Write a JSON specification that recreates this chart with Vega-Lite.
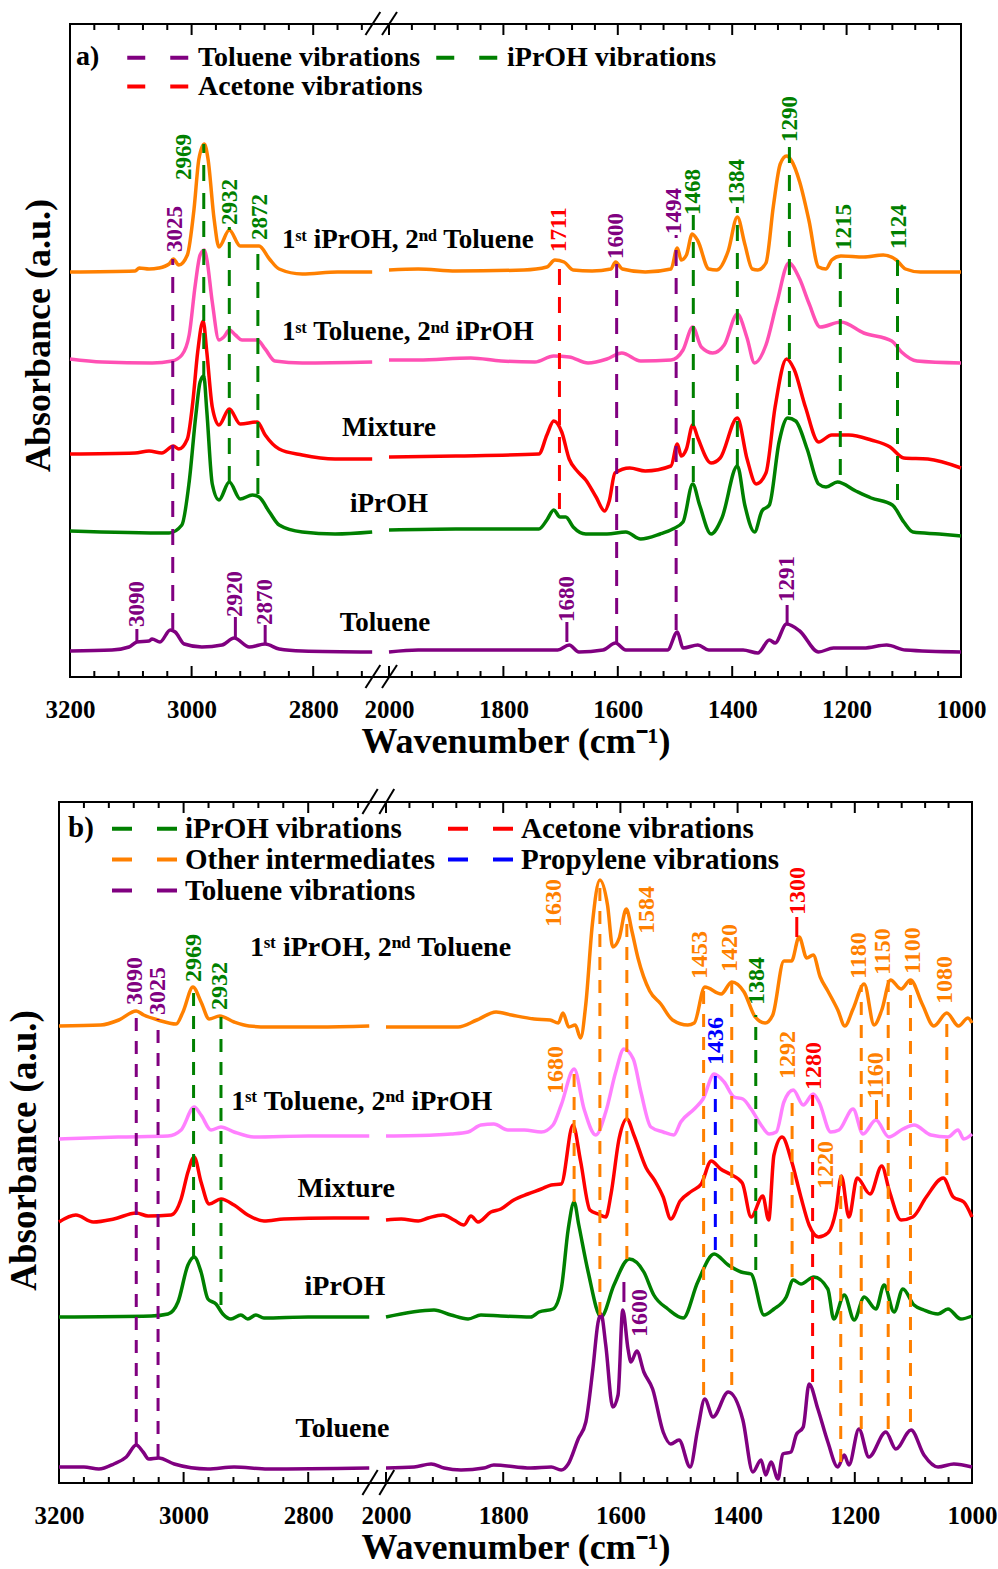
{
"$schema": "https://vega.github.io/schema/vega-lite/v6.json",
"background": "white",
"padding": {"left": 4, "top": 9, "right": 5, "bottom": 0},
"config": {
  "view": {"stroke": "black", "strokeWidth": 2},
  "font": "Liberation Serif",
  "axis": {"domain": false, "grid": false, "labelFont": "Liberation Serif", "labelFontWeight": "bold", "labelFontSize": 25, "labelColor": "black", "titleFont": "Liberation Serif", "titleFontWeight": "bold", "titleColor": "black", "tickColor": "black", "tickWidth": 2},
  "text": {"font": "Liberation Serif", "fontWeight": "bold"}
},
"datasets": {
"x_major": [{"v":3200},{"v":3000},{"v":2800},{"v":2000},{"v":1800},{"v":1600},{"v":1400},{"v":1200},{"v":1000}],
"x_minor": [{"v":3160},{"v":3120},{"v":3080},{"v":3040},{"v":2960},{"v":2920},{"v":2880},{"v":2840},{"v":2760},{"v":2720},{"v":1960},{"v":1920},{"v":1880},{"v":1840},{"v":1760},{"v":1720},{"v":1680},{"v":1640},{"v":1560},{"v":1520},{"v":1480},{"v":1440},{"v":1360},{"v":1320},{"v":1280},{"v":1240},{"v":1160},{"v":1120},{"v":1080},{"v":1040}],
"a_spec": [
{"s":"IT","g":"L","x":3200,"y":405},{"s":"IT","g":"L","x":3093,"y":406},{"s":"IT","g":"L","x":3086,"y":409},{"s":"IT","g":"L","x":3070,"y":408},{"s":"IT","g":"L","x":3054,"y":409},{"s":"IT","g":"L","x":3037,"y":413},{"s":"IT","g":"L","x":3030,"y":418},{"s":"IT","g":"L","x":3021,"y":412},{"s":"IT","g":"L","x":3007,"y":422},{"s":"IT","g":"L","x":2996,"y":468},{"s":"IT","g":"L","x":2988,"y":518},{"s":"IT","g":"L","x":2979,"y":533},{"s":"IT","g":"L","x":2973,"y":518},{"s":"IT","g":"L","x":2963,"y":458},{"s":"IT","g":"L","x":2955,"y":430},{"s":"IT","g":"L","x":2938,"y":447},{"s":"IT","g":"L","x":2920,"y":431},{"s":"IT","g":"L","x":2889,"y":431},{"s":"IT","g":"L","x":2872,"y":418},{"s":"IT","g":"L","x":2856,"y":408},{"s":"IT","g":"L","x":2818,"y":403},{"s":"IT","g":"L","x":2760,"y":405},{"s":"IT","g":"L","x":2703,"y":405},
{"s":"IT","g":"R","x":2000,"y":407},{"s":"IT","g":"R","x":1949,"y":408},{"s":"IT","g":"R","x":1883,"y":406},{"s":"IT","g":"R","x":1764,"y":407},{"s":"IT","g":"R","x":1724,"y":410},{"s":"IT","g":"R","x":1710,"y":417},{"s":"IT","g":"R","x":1694,"y":415},{"s":"IT","g":"R","x":1678,"y":407},{"s":"IT","g":"R","x":1645,"y":406},{"s":"IT","g":"R","x":1612,"y":408},{"s":"IT","g":"R","x":1604,"y":415},{"s":"IT","g":"R","x":1592,"y":408},{"s":"IT","g":"R","x":1552,"y":405},{"s":"IT","g":"R","x":1507,"y":408},{"s":"IT","g":"R","x":1496,"y":429},{"s":"IT","g":"R","x":1489,"y":417},{"s":"IT","g":"R","x":1480,"y":422},{"s":"IT","g":"R","x":1470,"y":443},{"s":"IT","g":"R","x":1460,"y":436},{"s":"IT","g":"R","x":1441,"y":408},{"s":"IT","g":"R","x":1427,"y":407},{"s":"IT","g":"R","x":1407,"y":426},{"s":"IT","g":"R","x":1391,"y":460},{"s":"IT","g":"R","x":1378,"y":433},{"s":"IT","g":"R","x":1365,"y":408},{"s":"IT","g":"R","x":1355,"y":407},{"s":"IT","g":"R","x":1341,"y":414},{"s":"IT","g":"R","x":1328,"y":471},{"s":"IT","g":"R","x":1316,"y":513},{"s":"IT","g":"R","x":1305,"y":521},{"s":"IT","g":"R","x":1296,"y":516},{"s":"IT","g":"R","x":1282,"y":495},{"s":"IT","g":"R","x":1266,"y":457},{"s":"IT","g":"R","x":1249,"y":410},{"s":"IT","g":"R","x":1236,"y":408},{"s":"IT","g":"R","x":1226,"y":417},{"s":"IT","g":"R","x":1210,"y":421},{"s":"IT","g":"R","x":1170,"y":420},{"s":"IT","g":"R","x":1136,"y":422},{"s":"IT","g":"R","x":1113,"y":417},{"s":"IT","g":"R","x":1097,"y":408},{"s":"IT","g":"R","x":1071,"y":405},{"s":"IT","g":"R","x":1000,"y":405},
{"s":"TI","g":"L","x":3200,"y":318},{"s":"TI","g":"L","x":3147,"y":315},{"s":"TI","g":"L","x":3065,"y":314},{"s":"TI","g":"L","x":3032,"y":316},{"s":"TI","g":"L","x":3016,"y":322},{"s":"TI","g":"L","x":3004,"y":342},{"s":"TI","g":"L","x":2994,"y":392},{"s":"TI","g":"L","x":2986,"y":422},{"s":"TI","g":"L","x":2979,"y":427},{"s":"TI","g":"L","x":2975,"y":418},{"s":"TI","g":"L","x":2966,"y":375},{"s":"TI","g":"L","x":2955,"y":337},{"s":"TI","g":"L","x":2947,"y":340},{"s":"TI","g":"L","x":2938,"y":347},{"s":"TI","g":"L","x":2928,"y":342},{"s":"TI","g":"L","x":2917,"y":337},{"s":"TI","g":"L","x":2892,"y":337},{"s":"TI","g":"L","x":2879,"y":328},{"s":"TI","g":"L","x":2863,"y":316},{"s":"TI","g":"L","x":2818,"y":314},{"s":"TI","g":"L","x":2703,"y":315},
{"s":"TI","g":"R","x":2000,"y":317},{"s":"TI","g":"R","x":1949,"y":317},{"s":"TI","g":"R","x":1857,"y":319},{"s":"TI","g":"R","x":1804,"y":316},{"s":"TI","g":"R","x":1745,"y":315},{"s":"TI","g":"R","x":1712,"y":321},{"s":"TI","g":"R","x":1685,"y":320},{"s":"TI","g":"R","x":1652,"y":314},{"s":"TI","g":"R","x":1619,"y":318},{"s":"TI","g":"R","x":1593,"y":324},{"s":"TI","g":"R","x":1560,"y":316},{"s":"TI","g":"R","x":1507,"y":317},{"s":"TI","g":"R","x":1486,"y":327},{"s":"TI","g":"R","x":1469,"y":350},{"s":"TI","g":"R","x":1454,"y":330},{"s":"TI","g":"R","x":1434,"y":324},{"s":"TI","g":"R","x":1414,"y":332},{"s":"TI","g":"R","x":1391,"y":363},{"s":"TI","g":"R","x":1374,"y":339},{"s":"TI","g":"R","x":1361,"y":314},{"s":"TI","g":"R","x":1341,"y":332},{"s":"TI","g":"R","x":1322,"y":374},{"s":"TI","g":"R","x":1301,"y":414},{"s":"TI","g":"R","x":1282,"y":398},{"s":"TI","g":"R","x":1266,"y":374},{"s":"TI","g":"R","x":1246,"y":350},{"s":"TI","g":"R","x":1210,"y":355},{"s":"TI","g":"R","x":1170,"y":344},{"s":"TI","g":"R","x":1121,"y":336},{"s":"TI","g":"R","x":1104,"y":325},{"s":"TI","g":"R","x":1077,"y":316},{"s":"TI","g":"R","x":1000,"y":314},
{"s":"Mixture","g":"L","x":3200,"y":223},{"s":"Mixture","g":"L","x":3093,"y":224},{"s":"Mixture","g":"L","x":3070,"y":226},{"s":"Mixture","g":"L","x":3049,"y":224},{"s":"Mixture","g":"L","x":3030,"y":231},{"s":"Mixture","g":"L","x":3021,"y":228},{"s":"Mixture","g":"L","x":3007,"y":238},{"s":"Mixture","g":"L","x":2998,"y":275},{"s":"Mixture","g":"L","x":2990,"y":325},{"s":"Mixture","g":"L","x":2981,"y":356},{"s":"Mixture","g":"L","x":2975,"y":325},{"s":"Mixture","g":"L","x":2966,"y":270},{"s":"Mixture","g":"L","x":2955,"y":252},{"s":"Mixture","g":"L","x":2938,"y":268},{"s":"Mixture","g":"L","x":2920,"y":253},{"s":"Mixture","g":"L","x":2892,"y":255},{"s":"Mixture","g":"L","x":2879,"y":242},{"s":"Mixture","g":"L","x":2856,"y":228},{"s":"Mixture","g":"L","x":2818,"y":222},{"s":"Mixture","g":"L","x":2764,"y":218},{"s":"Mixture","g":"L","x":2703,"y":218},
{"s":"Mixture","g":"R","x":2000,"y":220},{"s":"Mixture","g":"R","x":1883,"y":221},{"s":"Mixture","g":"R","x":1738,"y":223},{"s":"Mixture","g":"R","x":1724,"y":242},{"s":"Mixture","g":"R","x":1712,"y":256},{"s":"Mixture","g":"R","x":1698,"y":245},{"s":"Mixture","g":"R","x":1685,"y":218},{"s":"Mixture","g":"R","x":1671,"y":206},{"s":"Mixture","g":"R","x":1656,"y":197},{"s":"Mixture","g":"R","x":1638,"y":180},{"s":"Mixture","g":"R","x":1623,"y":166},{"s":"Mixture","g":"R","x":1615,"y":176},{"s":"Mixture","g":"R","x":1605,"y":204},{"s":"Mixture","g":"R","x":1579,"y":209},{"s":"Mixture","g":"R","x":1552,"y":206},{"s":"Mixture","g":"R","x":1507,"y":211},{"s":"Mixture","g":"R","x":1496,"y":233},{"s":"Mixture","g":"R","x":1489,"y":221},{"s":"Mixture","g":"R","x":1480,"y":228},{"s":"Mixture","g":"R","x":1469,"y":252},{"s":"Mixture","g":"R","x":1460,"y":239},{"s":"Mixture","g":"R","x":1437,"y":214},{"s":"Mixture","g":"R","x":1421,"y":219},{"s":"Mixture","g":"R","x":1391,"y":259},{"s":"Mixture","g":"R","x":1374,"y":218},{"s":"Mixture","g":"R","x":1358,"y":193},{"s":"Mixture","g":"R","x":1341,"y":204},{"s":"Mixture","g":"R","x":1325,"y":270},{"s":"Mixture","g":"R","x":1305,"y":318},{"s":"Mixture","g":"R","x":1292,"y":308},{"s":"Mixture","g":"R","x":1272,"y":270},{"s":"Mixture","g":"R","x":1249,"y":235},{"s":"Mixture","g":"R","x":1226,"y":242},{"s":"Mixture","g":"R","x":1196,"y":242},{"s":"Mixture","g":"R","x":1157,"y":237},{"s":"Mixture","g":"R","x":1124,"y":230},{"s":"Mixture","g":"R","x":1100,"y":219},{"s":"Mixture","g":"R","x":1058,"y":218},{"s":"Mixture","g":"R","x":1000,"y":209},
{"s":"iPrOH","g":"L","x":3200,"y":146},{"s":"iPrOH","g":"L","x":3037,"y":144},{"s":"iPrOH","g":"L","x":3016,"y":152},{"s":"iPrOH","g":"L","x":3004,"y":195},{"s":"iPrOH","g":"L","x":2993,"y":262},{"s":"iPrOH","g":"L","x":2986,"y":295},{"s":"iPrOH","g":"L","x":2980,"y":301},{"s":"iPrOH","g":"L","x":2975,"y":266},{"s":"iPrOH","g":"L","x":2966,"y":193},{"s":"iPrOH","g":"L","x":2955,"y":177},{"s":"iPrOH","g":"L","x":2938,"y":195},{"s":"iPrOH","g":"L","x":2920,"y":178},{"s":"iPrOH","g":"L","x":2900,"y":182},{"s":"iPrOH","g":"L","x":2889,"y":180},{"s":"iPrOH","g":"L","x":2872,"y":165},{"s":"iPrOH","g":"L","x":2856,"y":152},{"s":"iPrOH","g":"L","x":2818,"y":145},{"s":"iPrOH","g":"L","x":2764,"y":143},{"s":"iPrOH","g":"L","x":2703,"y":145},
{"s":"iPrOH","g":"R","x":2000,"y":147},{"s":"iPrOH","g":"R","x":1883,"y":148},{"s":"iPrOH","g":"R","x":1738,"y":148},{"s":"iPrOH","g":"R","x":1724,"y":157},{"s":"iPrOH","g":"R","x":1712,"y":167},{"s":"iPrOH","g":"R","x":1701,"y":160},{"s":"iPrOH","g":"R","x":1691,"y":160},{"s":"iPrOH","g":"R","x":1678,"y":150},{"s":"iPrOH","g":"R","x":1656,"y":143},{"s":"iPrOH","g":"R","x":1619,"y":143},{"s":"iPrOH","g":"R","x":1586,"y":145},{"s":"iPrOH","g":"R","x":1560,"y":138},{"s":"iPrOH","g":"R","x":1526,"y":143},{"s":"iPrOH","g":"R","x":1504,"y":148},{"s":"iPrOH","g":"R","x":1486,"y":155},{"s":"iPrOH","g":"R","x":1469,"y":193},{"s":"iPrOH","g":"R","x":1457,"y":172},{"s":"iPrOH","g":"R","x":1437,"y":143},{"s":"iPrOH","g":"R","x":1418,"y":159},{"s":"iPrOH","g":"R","x":1391,"y":211},{"s":"iPrOH","g":"R","x":1378,"y":172},{"s":"iPrOH","g":"R","x":1361,"y":145},{"s":"iPrOH","g":"R","x":1348,"y":166},{"s":"iPrOH","g":"R","x":1335,"y":172},{"s":"iPrOH","g":"R","x":1318,"y":235},{"s":"iPrOH","g":"R","x":1303,"y":259},{"s":"iPrOH","g":"R","x":1289,"y":256},{"s":"iPrOH","g":"R","x":1269,"y":228},{"s":"iPrOH","g":"R","x":1249,"y":193},{"s":"iPrOH","g":"R","x":1236,"y":190},{"s":"iPrOH","g":"R","x":1216,"y":195},{"s":"iPrOH","g":"R","x":1184,"y":186},{"s":"iPrOH","g":"R","x":1157,"y":179},{"s":"iPrOH","g":"R","x":1120,"y":172},{"s":"iPrOH","g":"R","x":1100,"y":155},{"s":"iPrOH","g":"R","x":1084,"y":145},{"s":"iPrOH","g":"R","x":1038,"y":143},{"s":"iPrOH","g":"R","x":1000,"y":141},
{"s":"Toluene","g":"L","x":3200,"y":26},{"s":"Toluene","g":"L","x":3131,"y":27},{"s":"Toluene","g":"L","x":3103,"y":30},{"s":"Toluene","g":"L","x":3090,"y":35},{"s":"Toluene","g":"L","x":3070,"y":36},{"s":"Toluene","g":"L","x":3065,"y":38},{"s":"Toluene","g":"L","x":3052,"y":35},{"s":"Toluene","g":"L","x":3035,"y":47},{"s":"Toluene","g":"L","x":3027,"y":45},{"s":"Toluene","g":"L","x":3012,"y":33},{"s":"Toluene","g":"L","x":2983,"y":30},{"s":"Toluene","g":"L","x":2950,"y":32},{"s":"Toluene","g":"L","x":2930,"y":39},{"s":"Toluene","g":"L","x":2905,"y":30},{"s":"Toluene","g":"L","x":2879,"y":33},{"s":"Toluene","g":"L","x":2856,"y":28},{"s":"Toluene","g":"L","x":2818,"y":26},{"s":"Toluene","g":"L","x":2703,"y":25},
{"s":"Toluene","g":"R","x":2000,"y":25},{"s":"Toluene","g":"R","x":1949,"y":27},{"s":"Toluene","g":"R","x":1816,"y":27},{"s":"Toluene","g":"R","x":1705,"y":27},{"s":"Toluene","g":"R","x":1685,"y":32},{"s":"Toluene","g":"R","x":1668,"y":25},{"s":"Toluene","g":"R","x":1626,"y":27},{"s":"Toluene","g":"R","x":1604,"y":34},{"s":"Toluene","g":"R","x":1586,"y":27},{"s":"Toluene","g":"R","x":1513,"y":27},{"s":"Toluene","g":"R","x":1496,"y":45},{"s":"Toluene","g":"R","x":1486,"y":29},{"s":"Toluene","g":"R","x":1460,"y":32},{"s":"Toluene","g":"R","x":1441,"y":27},{"s":"Toluene","g":"R","x":1381,"y":27},{"s":"Toluene","g":"R","x":1355,"y":24},{"s":"Toluene","g":"R","x":1335,"y":37},{"s":"Toluene","g":"R","x":1325,"y":34},{"s":"Toluene","g":"R","x":1305,"y":53},{"s":"Toluene","g":"R","x":1282,"y":46},{"s":"Toluene","g":"R","x":1249,"y":25},{"s":"Toluene","g":"R","x":1223,"y":29},{"s":"Toluene","g":"R","x":1170,"y":29},{"s":"Toluene","g":"R","x":1130,"y":32},{"s":"Toluene","g":"R","x":1097,"y":27},{"s":"Toluene","g":"R","x":1000,"y":25}
],
"a_rules": [
{"x":3031,"y":48,"y2":418,"t":"Toluene vibrations"},{"x":2980,"y":300,"y2":533,"t":"iPrOH vibrations"},{"x":2938,"y":195,"y2":450,"t":"iPrOH vibrations"},{"x":2891,"y":183,"y2":435,"t":"iPrOH vibrations"},
{"x":1702,"y":168,"y2":420,"t":"Acetone vibrations"},{"x":1602,"y":35,"y2":413,"t":"Toluene vibrations"},{"x":1498,"y":47,"y2":442,"t":"Toluene vibrations"},{"x":1468,"y":195,"y2":462,"t":"iPrOH vibrations"},{"x":1391,"y":212,"y2":470,"t":"iPrOH vibrations"},{"x":1300,"y":262,"y2":532,"t":"iPrOH vibrations"},{"x":1211,"y":202,"y2":423,"t":"iPrOH vibrations"},{"x":1111,"y":177,"y2":425,"t":"iPrOH vibrations"}
],
"a_ticks": [
{"x":3090,"y":34,"y2":48,"t":"Toluene vibrations"},{"x":2928,"y":40,"y2":60,"t":"Toluene vibrations"},{"x":2879,"y":34,"y2":52,"t":"Toluene vibrations"},{"x":1689,"y":35,"y2":55,"t":"Toluene vibrations"},{"x":1304,"y":53,"y2":72,"t":"Toluene vibrations"}
],
"a_labels": [
{"x":3028,"y":425,"l":"3025","t":"Toluene vibrations"},{"x":3012,"y":497,"l":"2969","t":"iPrOH vibrations"},{"x":2937,"y":452,"l":"2932","t":"iPrOH vibrations"},{"x":2888,"y":437,"l":"2872","t":"iPrOH vibrations"},
{"x":3090,"y":50,"l":"3090","t":"Toluene vibrations"},{"x":2928,"y":60,"l":"2920","t":"Toluene vibrations"},{"x":2880,"y":52,"l":"2870","t":"Toluene vibrations"},
{"x":1703,"y":425,"l":"1711","t":"Acetone vibrations"},{"x":1603,"y":418,"l":"1600","t":"Toluene vibrations"},{"x":1501,"y":443,"l":"1494","t":"Toluene vibrations"},{"x":1468,"y":462,"l":"1468","t":"iPrOH vibrations"},{"x":1391,"y":472,"l":"1384","t":"iPrOH vibrations"},{"x":1299,"y":535,"l":"1290","t":"iPrOH vibrations"},{"x":1205,"y":427,"l":"1215","t":"iPrOH vibrations"},{"x":1109,"y":428,"l":"1124","t":"iPrOH vibrations"},{"x":1689,"y":55,"l":"1680","t":"Toluene vibrations"},{"x":1304,"y":75,"l":"1291","t":"Toluene vibrations"}
],
"a_names": [
{"x":1967,"y":437,"n":"1ˢᵗ iPrOH, 2ⁿᵈ Toluene"},{"x":1967,"y":345,"n":"1ˢᵗ Toluene, 2ⁿᵈ iPrOH"},{"x":2000,"y":249,"n":"Mixture"},{"x":2000,"y":173,"n":"iPrOH"},{"x":2190,"y":54,"n":"Toluene"}
],
"a_breaks": [
{"x":2714,"x2":2406,"y":-11,"y2":12},{"x":2327,"x2":1986,"y":-11,"y2":12},{"x":2714,"x2":2406,"y":642,"y2":665},{"x":2327,"x2":1986,"y":642,"y2":665}
],
"b_spec": [
{"s":"IT","g":"L","x":3200,"y":457},{"s":"IT","g":"L","x":3133,"y":458},{"s":"IT","g":"L","x":3104,"y":463},{"s":"IT","g":"L","x":3076,"y":472},{"s":"IT","g":"L","x":3064,"y":468},{"s":"IT","g":"L","x":3041,"y":463},{"s":"IT","g":"L","x":3012,"y":459},{"s":"IT","g":"L","x":3001,"y":471},{"s":"IT","g":"L","x":2985,"y":496},{"s":"IT","g":"L","x":2972,"y":481},{"s":"IT","g":"L","x":2959,"y":464},{"s":"IT","g":"L","x":2942,"y":467},{"s":"IT","g":"L","x":2919,"y":461},{"s":"IT","g":"L","x":2895,"y":457},{"s":"IT","g":"L","x":2865,"y":456},{"s":"IT","g":"L","x":2784,"y":456},{"s":"IT","g":"L","x":2702,"y":457},
{"s":"IT","g":"R","x":2000,"y":456},{"s":"IT","g":"R","x":1877,"y":456},{"s":"IT","g":"R","x":1845,"y":463},{"s":"IT","g":"R","x":1812,"y":471},{"s":"IT","g":"R","x":1786,"y":468},{"s":"IT","g":"R","x":1747,"y":464},{"s":"IT","g":"R","x":1720,"y":463},{"s":"IT","g":"R","x":1706,"y":460},{"s":"IT","g":"R","x":1698,"y":470},{"s":"IT","g":"R","x":1688,"y":456},{"s":"IT","g":"R","x":1677,"y":458},{"s":"IT","g":"R","x":1668,"y":445},{"s":"IT","g":"R","x":1659,"y":479},{"s":"IT","g":"R","x":1648,"y":558},{"s":"IT","g":"R","x":1635,"y":603},{"s":"IT","g":"R","x":1622,"y":578},{"s":"IT","g":"R","x":1613,"y":536},{"s":"IT","g":"R","x":1602,"y":545},{"s":"IT","g":"R","x":1590,"y":574},{"s":"IT","g":"R","x":1580,"y":551},{"s":"IT","g":"R","x":1570,"y":525},{"s":"IT","g":"R","x":1550,"y":492},{"s":"IT","g":"R","x":1531,"y":479},{"s":"IT","g":"R","x":1511,"y":463},{"s":"IT","g":"R","x":1485,"y":458},{"s":"IT","g":"R","x":1474,"y":460},{"s":"IT","g":"R","x":1456,"y":496},{"s":"IT","g":"R","x":1428,"y":489},{"s":"IT","g":"R","x":1410,"y":501},{"s":"IT","g":"R","x":1389,"y":491},{"s":"IT","g":"R","x":1370,"y":466},{"s":"IT","g":"R","x":1353,"y":460},{"s":"IT","g":"R","x":1340,"y":468},{"s":"IT","g":"R","x":1321,"y":522},{"s":"IT","g":"R","x":1308,"y":522},{"s":"IT","g":"R","x":1295,"y":546},{"s":"IT","g":"R","x":1282,"y":525},{"s":"IT","g":"R","x":1271,"y":528},{"s":"IT","g":"R","x":1259,"y":506},{"s":"IT","g":"R","x":1246,"y":492},{"s":"IT","g":"R","x":1229,"y":473},{"s":"IT","g":"R","x":1217,"y":457},{"s":"IT","g":"R","x":1203,"y":474},{"s":"IT","g":"R","x":1184,"y":499},{"s":"IT","g":"R","x":1167,"y":458},{"s":"IT","g":"R","x":1154,"y":473},{"s":"IT","g":"R","x":1139,"y":503},{"s":"IT","g":"R","x":1121,"y":494},{"s":"IT","g":"R","x":1105,"y":503},{"s":"IT","g":"R","x":1085,"y":479},{"s":"IT","g":"R","x":1065,"y":457},{"s":"IT","g":"R","x":1043,"y":470},{"s":"IT","g":"R","x":1023,"y":457},{"s":"IT","g":"R","x":1007,"y":465},{"s":"IT","g":"R","x":1000,"y":460},
{"s":"TI","g":"L","x":3200,"y":344},{"s":"TI","g":"L","x":3105,"y":346},{"s":"TI","g":"L","x":3025,"y":347},{"s":"TI","g":"L","x":3004,"y":353},{"s":"TI","g":"L","x":2983,"y":376},{"s":"TI","g":"L","x":2972,"y":368},{"s":"TI","g":"L","x":2956,"y":353},{"s":"TI","g":"L","x":2940,"y":356},{"s":"TI","g":"L","x":2919,"y":351},{"s":"TI","g":"L","x":2887,"y":346},{"s":"TI","g":"L","x":2800,"y":347},{"s":"TI","g":"L","x":2702,"y":347},
{"s":"TI","g":"R","x":2000,"y":347},{"s":"TI","g":"R","x":1918,"y":348},{"s":"TI","g":"R","x":1889,"y":349},{"s":"TI","g":"R","x":1860,"y":351},{"s":"TI","g":"R","x":1838,"y":358},{"s":"TI","g":"R","x":1816,"y":359},{"s":"TI","g":"R","x":1792,"y":353},{"s":"TI","g":"R","x":1764,"y":353},{"s":"TI","g":"R","x":1735,"y":351},{"s":"TI","g":"R","x":1715,"y":358},{"s":"TI","g":"R","x":1701,"y":378},{"s":"TI","g":"R","x":1679,"y":414},{"s":"TI","g":"R","x":1662,"y":374},{"s":"TI","g":"R","x":1642,"y":348},{"s":"TI","g":"R","x":1625,"y":371},{"s":"TI","g":"R","x":1608,"y":411},{"s":"TI","g":"R","x":1594,"y":434},{"s":"TI","g":"R","x":1578,"y":424},{"s":"TI","g":"R","x":1565,"y":391},{"s":"TI","g":"R","x":1548,"y":356},{"s":"TI","g":"R","x":1527,"y":351},{"s":"TI","g":"R","x":1509,"y":348},{"s":"TI","g":"R","x":1497,"y":361},{"s":"TI","g":"R","x":1474,"y":374},{"s":"TI","g":"R","x":1459,"y":384},{"s":"TI","g":"R","x":1440,"y":409},{"s":"TI","g":"R","x":1423,"y":401},{"s":"TI","g":"R","x":1406,"y":386},{"s":"TI","g":"R","x":1391,"y":384},{"s":"TI","g":"R","x":1377,"y":374},{"s":"TI","g":"R","x":1360,"y":358},{"s":"TI","g":"R","x":1346,"y":349},{"s":"TI","g":"R","x":1334,"y":351},{"s":"TI","g":"R","x":1321,"y":381},{"s":"TI","g":"R","x":1305,"y":393},{"s":"TI","g":"R","x":1288,"y":378},{"s":"TI","g":"R","x":1271,"y":389},{"s":"TI","g":"R","x":1261,"y":381},{"s":"TI","g":"R","x":1241,"y":351},{"s":"TI","g":"R","x":1227,"y":353},{"s":"TI","g":"R","x":1203,"y":374},{"s":"TI","g":"R","x":1186,"y":349},{"s":"TI","g":"R","x":1164,"y":363},{"s":"TI","g":"R","x":1142,"y":346},{"s":"TI","g":"R","x":1118,"y":354},{"s":"TI","g":"R","x":1099,"y":358},{"s":"TI","g":"R","x":1070,"y":348},{"s":"TI","g":"R","x":1041,"y":346},{"s":"TI","g":"R","x":1024,"y":353},{"s":"TI","g":"R","x":1014,"y":344},{"s":"TI","g":"R","x":1000,"y":349},
{"s":"Mixture","g":"L","x":3200,"y":261},{"s":"Mixture","g":"L","x":3173,"y":268},{"s":"Mixture","g":"L","x":3145,"y":261},{"s":"Mixture","g":"L","x":3112,"y":264},{"s":"Mixture","g":"L","x":3076,"y":270},{"s":"Mixture","g":"L","x":3057,"y":267},{"s":"Mixture","g":"L","x":3020,"y":268},{"s":"Mixture","g":"L","x":3004,"y":284},{"s":"Mixture","g":"L","x":2993,"y":311},{"s":"Mixture","g":"L","x":2983,"y":326},{"s":"Mixture","g":"L","x":2972,"y":301},{"s":"Mixture","g":"L","x":2959,"y":279},{"s":"Mixture","g":"L","x":2940,"y":284},{"s":"Mixture","g":"L","x":2919,"y":278},{"s":"Mixture","g":"L","x":2897,"y":268},{"s":"Mixture","g":"L","x":2871,"y":262},{"s":"Mixture","g":"L","x":2839,"y":264},{"s":"Mixture","g":"L","x":2759,"y":265},{"s":"Mixture","g":"L","x":2702,"y":265},
{"s":"Mixture","g":"R","x":2000,"y":263},{"s":"Mixture","g":"R","x":1974,"y":264},{"s":"Mixture","g":"R","x":1945,"y":262},{"s":"Mixture","g":"R","x":1928,"y":265},{"s":"Mixture","g":"R","x":1903,"y":268},{"s":"Mixture","g":"R","x":1884,"y":263},{"s":"Mixture","g":"R","x":1867,"y":258},{"s":"Mixture","g":"R","x":1855,"y":267},{"s":"Mixture","g":"R","x":1843,"y":261},{"s":"Mixture","g":"R","x":1821,"y":271},{"s":"Mixture","g":"R","x":1804,"y":274},{"s":"Mixture","g":"R","x":1782,"y":283},{"s":"Mixture","g":"R","x":1758,"y":289},{"s":"Mixture","g":"R","x":1735,"y":294},{"s":"Mixture","g":"R","x":1718,"y":298},{"s":"Mixture","g":"R","x":1701,"y":299},{"s":"Mixture","g":"R","x":1681,"y":358},{"s":"Mixture","g":"R","x":1668,"y":322},{"s":"Mixture","g":"R","x":1652,"y":273},{"s":"Mixture","g":"R","x":1638,"y":269},{"s":"Mixture","g":"R","x":1625,"y":266},{"s":"Mixture","g":"R","x":1616,"y":289},{"s":"Mixture","g":"R","x":1602,"y":345},{"s":"Mixture","g":"R","x":1589,"y":364},{"s":"Mixture","g":"R","x":1577,"y":348},{"s":"Mixture","g":"R","x":1556,"y":315},{"s":"Mixture","g":"R","x":1541,"y":302},{"s":"Mixture","g":"R","x":1527,"y":286},{"s":"Mixture","g":"R","x":1514,"y":264},{"s":"Mixture","g":"R","x":1498,"y":282},{"s":"Mixture","g":"R","x":1478,"y":292},{"s":"Mixture","g":"R","x":1462,"y":299},{"s":"Mixture","g":"R","x":1445,"y":322},{"s":"Mixture","g":"R","x":1429,"y":314},{"s":"Mixture","g":"R","x":1413,"y":309},{"s":"Mixture","g":"R","x":1392,"y":300},{"s":"Mixture","g":"R","x":1377,"y":266},{"s":"Mixture","g":"R","x":1357,"y":287},{"s":"Mixture","g":"R","x":1347,"y":263},{"s":"Mixture","g":"R","x":1338,"y":328},{"s":"Mixture","g":"R","x":1324,"y":346},{"s":"Mixture","g":"R","x":1308,"y":322},{"s":"Mixture","g":"R","x":1292,"y":286},{"s":"Mixture","g":"R","x":1278,"y":258},{"s":"Mixture","g":"R","x":1262,"y":246},{"s":"Mixture","g":"R","x":1246,"y":250},{"s":"Mixture","g":"R","x":1232,"y":273},{"s":"Mixture","g":"R","x":1223,"y":307},{"s":"Mixture","g":"R","x":1210,"y":266},{"s":"Mixture","g":"R","x":1196,"y":305},{"s":"Mixture","g":"R","x":1174,"y":289},{"s":"Mixture","g":"R","x":1154,"y":317},{"s":"Mixture","g":"R","x":1141,"y":292},{"s":"Mixture","g":"R","x":1121,"y":263},{"s":"Mixture","g":"R","x":1101,"y":266},{"s":"Mixture","g":"R","x":1078,"y":286},{"s":"Mixture","g":"R","x":1049,"y":305},{"s":"Mixture","g":"R","x":1032,"y":286},{"s":"Mixture","g":"R","x":1014,"y":281},{"s":"Mixture","g":"R","x":1000,"y":266},
{"s":"iPrOH","g":"L","x":3200,"y":166},{"s":"iPrOH","g":"L","x":3052,"y":167},{"s":"iPrOH","g":"L","x":3025,"y":169},{"s":"iPrOH","g":"L","x":3009,"y":181},{"s":"iPrOH","g":"L","x":2993,"y":218},{"s":"iPrOH","g":"L","x":2983,"y":226},{"s":"iPrOH","g":"L","x":2972,"y":211},{"s":"iPrOH","g":"L","x":2961,"y":184},{"s":"iPrOH","g":"L","x":2948,"y":179},{"s":"iPrOH","g":"L","x":2937,"y":169},{"s":"iPrOH","g":"L","x":2924,"y":164},{"s":"iPrOH","g":"L","x":2908,"y":168},{"s":"iPrOH","g":"L","x":2897,"y":164},{"s":"iPrOH","g":"L","x":2884,"y":168},{"s":"iPrOH","g":"L","x":2871,"y":165},{"s":"iPrOH","g":"L","x":2800,"y":166},{"s":"iPrOH","g":"L","x":2702,"y":166},
{"s":"iPrOH","g":"R","x":2000,"y":166},{"s":"iPrOH","g":"R","x":1918,"y":173},{"s":"iPrOH","g":"R","x":1889,"y":168},{"s":"iPrOH","g":"R","x":1860,"y":164},{"s":"iPrOH","g":"R","x":1838,"y":168},{"s":"iPrOH","g":"R","x":1804,"y":167},{"s":"iPrOH","g":"R","x":1753,"y":166},{"s":"iPrOH","g":"R","x":1739,"y":171},{"s":"iPrOH","g":"R","x":1715,"y":174},{"s":"iPrOH","g":"R","x":1701,"y":194},{"s":"iPrOH","g":"R","x":1689,"y":254},{"s":"iPrOH","g":"R","x":1679,"y":281},{"s":"iPrOH","g":"R","x":1671,"y":258},{"s":"iPrOH","g":"R","x":1655,"y":211},{"s":"iPrOH","g":"R","x":1633,"y":166},{"s":"iPrOH","g":"R","x":1611,"y":198},{"s":"iPrOH","g":"R","x":1585,"y":224},{"s":"iPrOH","g":"R","x":1560,"y":211},{"s":"iPrOH","g":"R","x":1543,"y":188},{"s":"iPrOH","g":"R","x":1519,"y":174},{"s":"iPrOH","g":"R","x":1493,"y":165},{"s":"iPrOH","g":"R","x":1468,"y":201},{"s":"iPrOH","g":"R","x":1440,"y":229},{"s":"iPrOH","g":"R","x":1416,"y":218},{"s":"iPrOH","g":"R","x":1394,"y":211},{"s":"iPrOH","g":"R","x":1377,"y":209},{"s":"iPrOH","g":"R","x":1355,"y":168},{"s":"iPrOH","g":"R","x":1338,"y":174},{"s":"iPrOH","g":"R","x":1317,"y":186},{"s":"iPrOH","g":"R","x":1305,"y":203},{"s":"iPrOH","g":"R","x":1292,"y":199},{"s":"iPrOH","g":"R","x":1270,"y":206},{"s":"iPrOH","g":"R","x":1246,"y":194},{"s":"iPrOH","g":"R","x":1236,"y":164},{"s":"iPrOH","g":"R","x":1218,"y":188},{"s":"iPrOH","g":"R","x":1201,"y":163},{"s":"iPrOH","g":"R","x":1184,"y":186},{"s":"iPrOH","g":"R","x":1164,"y":174},{"s":"iPrOH","g":"R","x":1150,"y":198},{"s":"iPrOH","g":"R","x":1133,"y":171},{"s":"iPrOH","g":"R","x":1118,"y":194},{"s":"iPrOH","g":"R","x":1099,"y":178},{"s":"iPrOH","g":"R","x":1082,"y":173},{"s":"iPrOH","g":"R","x":1058,"y":169},{"s":"iPrOH","g":"R","x":1041,"y":174},{"s":"iPrOH","g":"R","x":1019,"y":164},{"s":"iPrOH","g":"R","x":1000,"y":167},
{"s":"Toluene","g":"L","x":3200,"y":16},{"s":"Toluene","g":"L","x":3160,"y":16},{"s":"Toluene","g":"L","x":3136,"y":14},{"s":"Toluene","g":"L","x":3112,"y":19},{"s":"Toluene","g":"L","x":3092,"y":26},{"s":"Toluene","g":"L","x":3076,"y":38},{"s":"Toluene","g":"L","x":3065,"y":31},{"s":"Toluene","g":"L","x":3056,"y":24},{"s":"Toluene","g":"L","x":3040,"y":25},{"s":"Toluene","g":"L","x":3015,"y":19},{"s":"Toluene","g":"L","x":2961,"y":14},{"s":"Toluene","g":"L","x":2919,"y":16},{"s":"Toluene","g":"L","x":2865,"y":14},{"s":"Toluene","g":"L","x":2702,"y":15},
{"s":"Toluene","g":"R","x":2000,"y":15},{"s":"Toluene","g":"R","x":1952,"y":16},{"s":"Toluene","g":"R","x":1923,"y":19},{"s":"Toluene","g":"R","x":1901,"y":15},{"s":"Toluene","g":"R","x":1872,"y":13},{"s":"Toluene","g":"R","x":1833,"y":15},{"s":"Toluene","g":"R","x":1816,"y":18},{"s":"Toluene","g":"R","x":1753,"y":15},{"s":"Toluene","g":"R","x":1718,"y":16},{"s":"Toluene","g":"R","x":1701,"y":13},{"s":"Toluene","g":"R","x":1689,"y":19},{"s":"Toluene","g":"R","x":1672,"y":44},{"s":"Toluene","g":"R","x":1659,"y":61},{"s":"Toluene","g":"R","x":1647,"y":114},{"s":"Toluene","g":"R","x":1638,"y":161},{"s":"Toluene","g":"R","x":1633,"y":169},{"s":"Toluene","g":"R","x":1625,"y":138},{"s":"Toluene","g":"R","x":1613,"y":76},{"s":"Toluene","g":"R","x":1604,"y":88},{"s":"Toluene","g":"R","x":1596,"y":173},{"s":"Toluene","g":"R","x":1587,"y":134},{"s":"Toluene","g":"R","x":1582,"y":121},{"s":"Toluene","g":"R","x":1572,"y":132},{"s":"Toluene","g":"R","x":1560,"y":111},{"s":"Toluene","g":"R","x":1545,"y":94},{"s":"Toluene","g":"R","x":1527,"y":51},{"s":"Toluene","g":"R","x":1514,"y":39},{"s":"Toluene","g":"R","x":1500,"y":43},{"s":"Toluene","g":"R","x":1481,"y":16},{"s":"Toluene","g":"R","x":1468,"y":54},{"s":"Toluene","g":"R","x":1456,"y":84},{"s":"Toluene","g":"R","x":1442,"y":66},{"s":"Toluene","g":"R","x":1416,"y":91},{"s":"Toluene","g":"R","x":1391,"y":63},{"s":"Toluene","g":"R","x":1374,"y":11},{"s":"Toluene","g":"R","x":1360,"y":23},{"s":"Toluene","g":"R","x":1352,"y":8},{"s":"Toluene","g":"R","x":1343,"y":21},{"s":"Toluene","g":"R","x":1331,"y":4},{"s":"Toluene","g":"R","x":1323,"y":29},{"s":"Toluene","g":"R","x":1309,"y":31},{"s":"Toluene","g":"R","x":1300,"y":48},{"s":"Toluene","g":"R","x":1288,"y":56},{"s":"Toluene","g":"R","x":1278,"y":99},{"s":"Toluene","g":"R","x":1263,"y":74},{"s":"Toluene","g":"R","x":1246,"y":41},{"s":"Toluene","g":"R","x":1229,"y":16},{"s":"Toluene","g":"R","x":1218,"y":28},{"s":"Toluene","g":"R","x":1210,"y":18},{"s":"Toluene","g":"R","x":1193,"y":54},{"s":"Toluene","g":"R","x":1176,"y":26},{"s":"Toluene","g":"R","x":1147,"y":51},{"s":"Toluene","g":"R","x":1130,"y":34},{"s":"Toluene","g":"R","x":1104,"y":53},{"s":"Toluene","g":"R","x":1082,"y":28},{"s":"Toluene","g":"R","x":1058,"y":16},{"s":"Toluene","g":"R","x":1031,"y":19},{"s":"Toluene","g":"R","x":1000,"y":16}
],
"b_rules": [
{"x":3076,"y":38,"y2":472,"t":"Toluene vibrations"},{"x":3041,"y":26,"y2":464,"t":"Toluene vibrations"},{"x":2984,"y":224,"y2":496,"t":"iPrOH vibrations"},{"x":2940,"y":178,"y2":466,"t":"iPrOH vibrations"},
{"x":1635,"y":168,"y2":601,"t":"Other intermediates"},{"x":1589,"y":224,"y2":574,"t":"Other intermediates"},{"x":1679,"y":281,"y2":414,"t":"Other intermediates"},{"x":1458,"y":88,"y2":498,"t":"Other intermediates"},{"x":1410,"y":98,"y2":501,"t":"Other intermediates"},{"x":1369,"y":213,"y2":468,"t":"iPrOH vibrations"},{"x":1438,"y":233,"y2":411,"t":"Propylene vibrations"},{"x":1307,"y":206,"y2":389,"t":"Other intermediates"},{"x":1272,"y":101,"y2":388,"t":"Acetone vibrations"},{"x":1224,"y":21,"y2":308,"t":"Other intermediates"},{"x":1189,"y":54,"y2":498,"t":"Other intermediates"},{"x":1143,"y":54,"y2":503,"t":"Other intermediates"},{"x":1105,"y":61,"y2":503,"t":"Other intermediates"},{"x":1043,"y":308,"y2":471,"t":"Other intermediates"}
],
"b_ticks": [
{"x":1299,"y":546,"y2":566,"t":"Acetone vibrations"},{"x":1163,"y":364,"y2":383,"t":"Other intermediates"},{"x":1594,"y":181,"y2":201,"t":"Toluene vibrations"}
],
"b_labels": [
{"x":3078,"y":478,"l":"3090","t":"Toluene vibrations"},{"x":3041,"y":468,"l":"3025","t":"Toluene vibrations"},{"x":2984,"y":501,"l":"2969","t":"iPrOH vibrations"},{"x":2942,"y":473,"l":"2932","t":"iPrOH vibrations"},
{"x":1714,"y":556,"l":"1630","t":"Other intermediates"},{"x":1555,"y":549,"l":"1584","t":"Other intermediates"},{"x":1710,"y":389,"l":"1680","t":"Other intermediates"},{"x":1464,"y":504,"l":"1453","t":"Other intermediates"},{"x":1413,"y":511,"l":"1420","t":"Other intermediates"},{"x":1367,"y":478,"l":"1384","t":"iPrOH vibrations"},{"x":1437,"y":418,"l":"1436","t":"Propylene vibrations"},{"x":1297,"y":568,"l":"1300","t":"Acetone vibrations"},{"x":1314,"y":404,"l":"1292","t":"Other intermediates"},{"x":1270,"y":393,"l":"1280","t":"Acetone vibrations"},{"x":1249,"y":294,"l":"1220","t":"Other intermediates"},{"x":1193,"y":504,"l":"1180","t":"Other intermediates"},{"x":1163,"y":384,"l":"1160","t":"Other intermediates"},{"x":1152,"y":508,"l":"1150","t":"Other intermediates"},{"x":1100,"y":509,"l":"1100","t":"Other intermediates"},{"x":1046,"y":479,"l":"1080","t":"Other intermediates"},{"x":1567,"y":146,"l":"1600","t":"Toluene vibrations"}
],
"b_names": [
{"x":2248,"y":535,"n":"1ˢᵗ iPrOH, 2ⁿᵈ Toluene"},{"x":2714,"y":381,"n":"1ˢᵗ Toluene, 2ⁿᵈ iPrOH"},{"x":2739,"y":294,"n":"Mixture"},{"x":2741,"y":196,"n":"iPrOH"},{"x":2745,"y":54,"n":"Toluene"}
],
"b_breaks": [
{"x":2713,"x2":2375,"y":-12,"y2":13},{"x":2303,"x2":1986,"y":-12,"y2":13},{"x":2713,"x2":2375,"y":669,"y2":694},{"x":2303,"x2":1986,"y":669,"y2":694}
]
},
"vconcat": [
{
  "width": 891, "height": 653,
  "layer": [
    {"data": {"name": "a_spec"},
     "mark": {"type": "line", "strokeWidth": 3.5, "interpolate": "monotone", "strokeJoin": "round"},
     "encoding": {
       "x": {"field": "x", "type": "quantitative", "scale": {"domain": [3200, 2700, 2000, 1000], "range": [0, 304, 319, 891], "nice": false, "zero": false},
             "axis": {"orient": "bottom", "values": [3200, 3000, 2800, 2000, 1800, 1600, 1400, 1200, 1000], "format": "d", "ticks": false, "labelPadding": 20, "labelFlush": false, "labelOverlap": false, "title": "Wavenumber (cm⁻¹)", "titleFontSize": 36, "titlePadding": 2}},
       "y": {"field": "y", "type": "quantitative", "scale": {"domain": [0, 653], "nice": false, "zero": false},
             "axis": {"orient": "left", "labels": false, "ticks": false, "title": "Absorbance (a.u.)", "titleFontSize": 36, "titlePadding": 13, "titleY": 311}},
       "stroke": {"field": "s", "type": "nominal", "scale": {"domain": ["IT", "TI", "Mixture", "iPrOH", "Toluene"], "range": ["#FF8000", "#FF50B4", "#FF0000", "#008000", "#800080"]}, "legend": null},
       "detail": {"field": "g"},
       "order": {"field": "x", "sort": "descending"}
     }},
    {"data": {"name": "x_major"}, "mark": {"type": "rule", "strokeWidth": 2, "color": "black"},
     "encoding": {"x": {"field": "v", "type": "quantitative", "axis": null}, "y": {"datum": 0, "type": "quantitative", "axis": null}, "y2": {"datum": 11}}},
    {"data": {"name": "x_major"}, "mark": {"type": "rule", "strokeWidth": 2, "color": "black"},
     "encoding": {"x": {"field": "v", "type": "quantitative", "axis": null}, "y": {"datum": 642, "type": "quantitative", "axis": null}, "y2": {"datum": 653}}},
    {"data": {"name": "x_minor"}, "mark": {"type": "rule", "strokeWidth": 2, "color": "black"},
     "encoding": {"x": {"field": "v", "type": "quantitative", "axis": null}, "y": {"datum": 0, "type": "quantitative", "axis": null}, "y2": {"datum": 6}}},
    {"data": {"name": "x_minor"}, "mark": {"type": "rule", "strokeWidth": 2, "color": "black"},
     "encoding": {"x": {"field": "v", "type": "quantitative", "axis": null}, "y": {"datum": 647, "type": "quantitative", "axis": null}, "y2": {"datum": 653}}},
    {"data": {"name": "a_rules"},
     "mark": {"type": "rule", "strokeWidth": 3, "strokeDash": [16, 12]},
     "encoding": {
       "x": {"field": "x", "type": "quantitative", "axis": null},
       "y": {"field": "y", "type": "quantitative", "axis": null},
       "y2": {"field": "y2"},
       "color": {"field": "t", "type": "nominal", "scale": {"domain": ["Toluene vibrations", "iPrOH vibrations", "Acetone vibrations"], "range": ["#800080", "#008000", "#FF0000"]},
                 "legend": {"orient": "none", "legendX": 6, "legendY": 19, "direction": "horizontal", "title": "a)", "titleOrient": "left", "titleAnchor": "start", "titleBaseline": "top", "titleFontSize": 28, "titleFont": "Liberation Serif", "titleFontWeight": "bold", "titleColor": "black", "titlePadding": 44, "columns": 2, "symbolType": "M-2.5,0H2.5", "symbolSize": 625, "symbolStrokeWidth": 4, "symbolDash": [18, 25], "symbolFillColor": "transparent", "labelFontSize": 28, "labelFont": "Liberation Serif", "labelFontWeight": "bold", "labelColor": "black", "labelOffset": 25, "labelLimit": 400, "columnPadding": 5, "rowPadding": 0}}
     }},
    {"data": {"name": "a_ticks"},
     "mark": {"type": "rule", "strokeWidth": 3},
     "encoding": {
       "x": {"field": "x", "type": "quantitative", "axis": null},
       "y": {"field": "y", "type": "quantitative", "axis": null},
       "y2": {"field": "y2"},
       "color": {"field": "t", "type": "nominal", "legend": null}
     }},
    {"data": {"name": "a_labels"},
     "mark": {"type": "text", "angle": 270, "align": "left", "baseline": "middle", "fontSize": 23, "fontWeight": "bold"},
     "encoding": {
       "x": {"field": "x", "type": "quantitative", "axis": null},
       "y": {"field": "y", "type": "quantitative", "axis": null},
       "text": {"field": "l"},
       "color": {"field": "t", "type": "nominal", "legend": null}
     }},
    {"data": {"name": "a_names"},
     "mark": {"type": "text", "align": "center", "baseline": "middle", "fontSize": 27, "fontWeight": "bold", "color": "black"},
     "encoding": {
       "x": {"field": "x", "type": "quantitative", "axis": null},
       "y": {"field": "y", "type": "quantitative", "axis": null},
       "text": {"field": "n"}
     }},
    {"data": {"name": "a_breaks"},
     "mark": {"type": "rule", "strokeWidth": 2, "color": "black"},
     "encoding": {
       "x": {"field": "x", "type": "quantitative", "axis": null},
       "x2": {"field": "x2"},
       "y": {"field": "y", "type": "quantitative", "axis": null},
       "y2": {"field": "y2"}
     }}
  ],
  "resolve": {"axis": {"x": "independent", "y": "independent"}}
},
{
  "width": 913, "height": 681,
  "layer": [
    {"data": {"name": "b_spec"},
     "mark": {"type": "line", "strokeWidth": 3.5, "interpolate": "monotone", "strokeJoin": "round"},
     "encoding": {
       "x": {"field": "x", "type": "quantitative", "scale": {"domain": [3200, 2700, 2000, 1000], "range": [0, 311.5, 327, 913], "nice": false, "zero": false},
             "axis": {"orient": "bottom", "values": [3200, 3000, 2800, 2000, 1800, 1600, 1400, 1200, 1000], "format": "d", "ticks": false, "labelPadding": 20, "labelFlush": false, "labelOverlap": false, "title": "Wavenumber (cm⁻¹)", "titleFontSize": 36, "titlePadding": 2}},
       "y": {"field": "y", "type": "quantitative", "scale": {"domain": [0, 681], "nice": false, "zero": false},
             "axis": {"orient": "left", "labels": false, "ticks": false, "title": "Absorbance (a.u.)", "titleFontSize": 37, "titlePadding": 16, "titleY": 348}},
       "stroke": {"field": "s", "type": "nominal", "scale": {"domain": ["IT", "TI", "Mixture", "iPrOH", "Toluene"], "range": ["#FF8000", "#FF80FF", "#FF0000", "#008000", "#800080"]}, "legend": null},
       "detail": {"field": "g"},
       "order": {"field": "x", "sort": "descending"}
     }},
    {"data": {"name": "x_major"}, "mark": {"type": "rule", "strokeWidth": 2, "color": "black"},
     "encoding": {"x": {"field": "v", "type": "quantitative", "axis": null}, "y": {"datum": 0, "type": "quantitative", "axis": null}, "y2": {"datum": 11}}},
    {"data": {"name": "x_major"}, "mark": {"type": "rule", "strokeWidth": 2, "color": "black"},
     "encoding": {"x": {"field": "v", "type": "quantitative", "axis": null}, "y": {"datum": 670, "type": "quantitative", "axis": null}, "y2": {"datum": 681}}},
    {"data": {"name": "x_minor"}, "mark": {"type": "rule", "strokeWidth": 2, "color": "black"},
     "encoding": {"x": {"field": "v", "type": "quantitative", "axis": null}, "y": {"datum": 0, "type": "quantitative", "axis": null}, "y2": {"datum": 6}}},
    {"data": {"name": "x_minor"}, "mark": {"type": "rule", "strokeWidth": 2, "color": "black"},
     "encoding": {"x": {"field": "v", "type": "quantitative", "axis": null}, "y": {"datum": 675, "type": "quantitative", "axis": null}, "y2": {"datum": 681}}},
    {"data": {"name": "b_rules"},
     "mark": {"type": "rule", "strokeWidth": 3, "strokeDash": [13, 10]},
     "encoding": {
       "x": {"field": "x", "type": "quantitative", "axis": null},
       "y": {"field": "y", "type": "quantitative", "axis": null},
       "y2": {"field": "y2"},
       "color": {"field": "t", "type": "nominal", "scale": {"domain": ["iPrOH vibrations", "Acetone vibrations", "Other intermediates", "Propylene vibrations", "Toluene vibrations"], "range": ["#008000", "#FF0000", "#FF8000", "#0000FF", "#800080"]},
                 "legend": {"orient": "none", "legendX": 9, "legendY": 12, "direction": "horizontal", "title": "b)", "titleOrient": "left", "titleAnchor": "start", "titleBaseline": "top", "titleFontSize": 29, "titleFont": "Liberation Serif", "titleFontWeight": "bold", "titleColor": "black", "titlePadding": 36, "columns": 2, "symbolType": "M-2.6,0H2.6", "symbolSize": 625, "symbolStrokeWidth": 4, "symbolDash": [20, 25], "symbolFillColor": "transparent", "labelFontSize": 29, "labelFont": "Liberation Serif", "labelFontWeight": "bold", "labelColor": "black", "labelOffset": 26, "labelLimit": 400, "columnPadding": 4, "rowPadding": 1}}
     }},
    {"data": {"name": "b_ticks"},
     "mark": {"type": "rule", "strokeWidth": 3},
     "encoding": {
       "x": {"field": "x", "type": "quantitative", "axis": null},
       "y": {"field": "y", "type": "quantitative", "axis": null},
       "y2": {"field": "y2"},
       "color": {"field": "t", "type": "nominal", "legend": null}
     }},
    {"data": {"name": "b_labels"},
     "mark": {"type": "text", "angle": 270, "align": "left", "baseline": "middle", "fontSize": 24, "fontWeight": "bold"},
     "encoding": {
       "x": {"field": "x", "type": "quantitative", "axis": null},
       "y": {"field": "y", "type": "quantitative", "axis": null},
       "text": {"field": "l"},
       "color": {"field": "t", "type": "nominal", "legend": null}
     }},
    {"data": {"name": "b_names"},
     "mark": {"type": "text", "align": "center", "baseline": "middle", "fontSize": 28, "fontWeight": "bold", "color": "black"},
     "encoding": {
       "x": {"field": "x", "type": "quantitative", "axis": null},
       "y": {"field": "y", "type": "quantitative", "axis": null},
       "text": {"field": "n"}
     }},
    {"data": {"name": "b_breaks"},
     "mark": {"type": "rule", "strokeWidth": 2, "color": "black"},
     "encoding": {
       "x": {"field": "x", "type": "quantitative", "axis": null},
       "x2": {"field": "x2"},
       "y": {"field": "y", "type": "quantitative", "axis": null},
       "y2": {"field": "y2"}
     }}
  ],
  "resolve": {"axis": {"x": "independent", "y": "independent"}}
}
],
"spacing": 125,
"bounds": "flush",
"center": true,
"resolve": {"scale": {"x": "independent", "y": "independent", "color": "independent", "stroke": "independent"}, "legend": {"color": "independent"}}
}
